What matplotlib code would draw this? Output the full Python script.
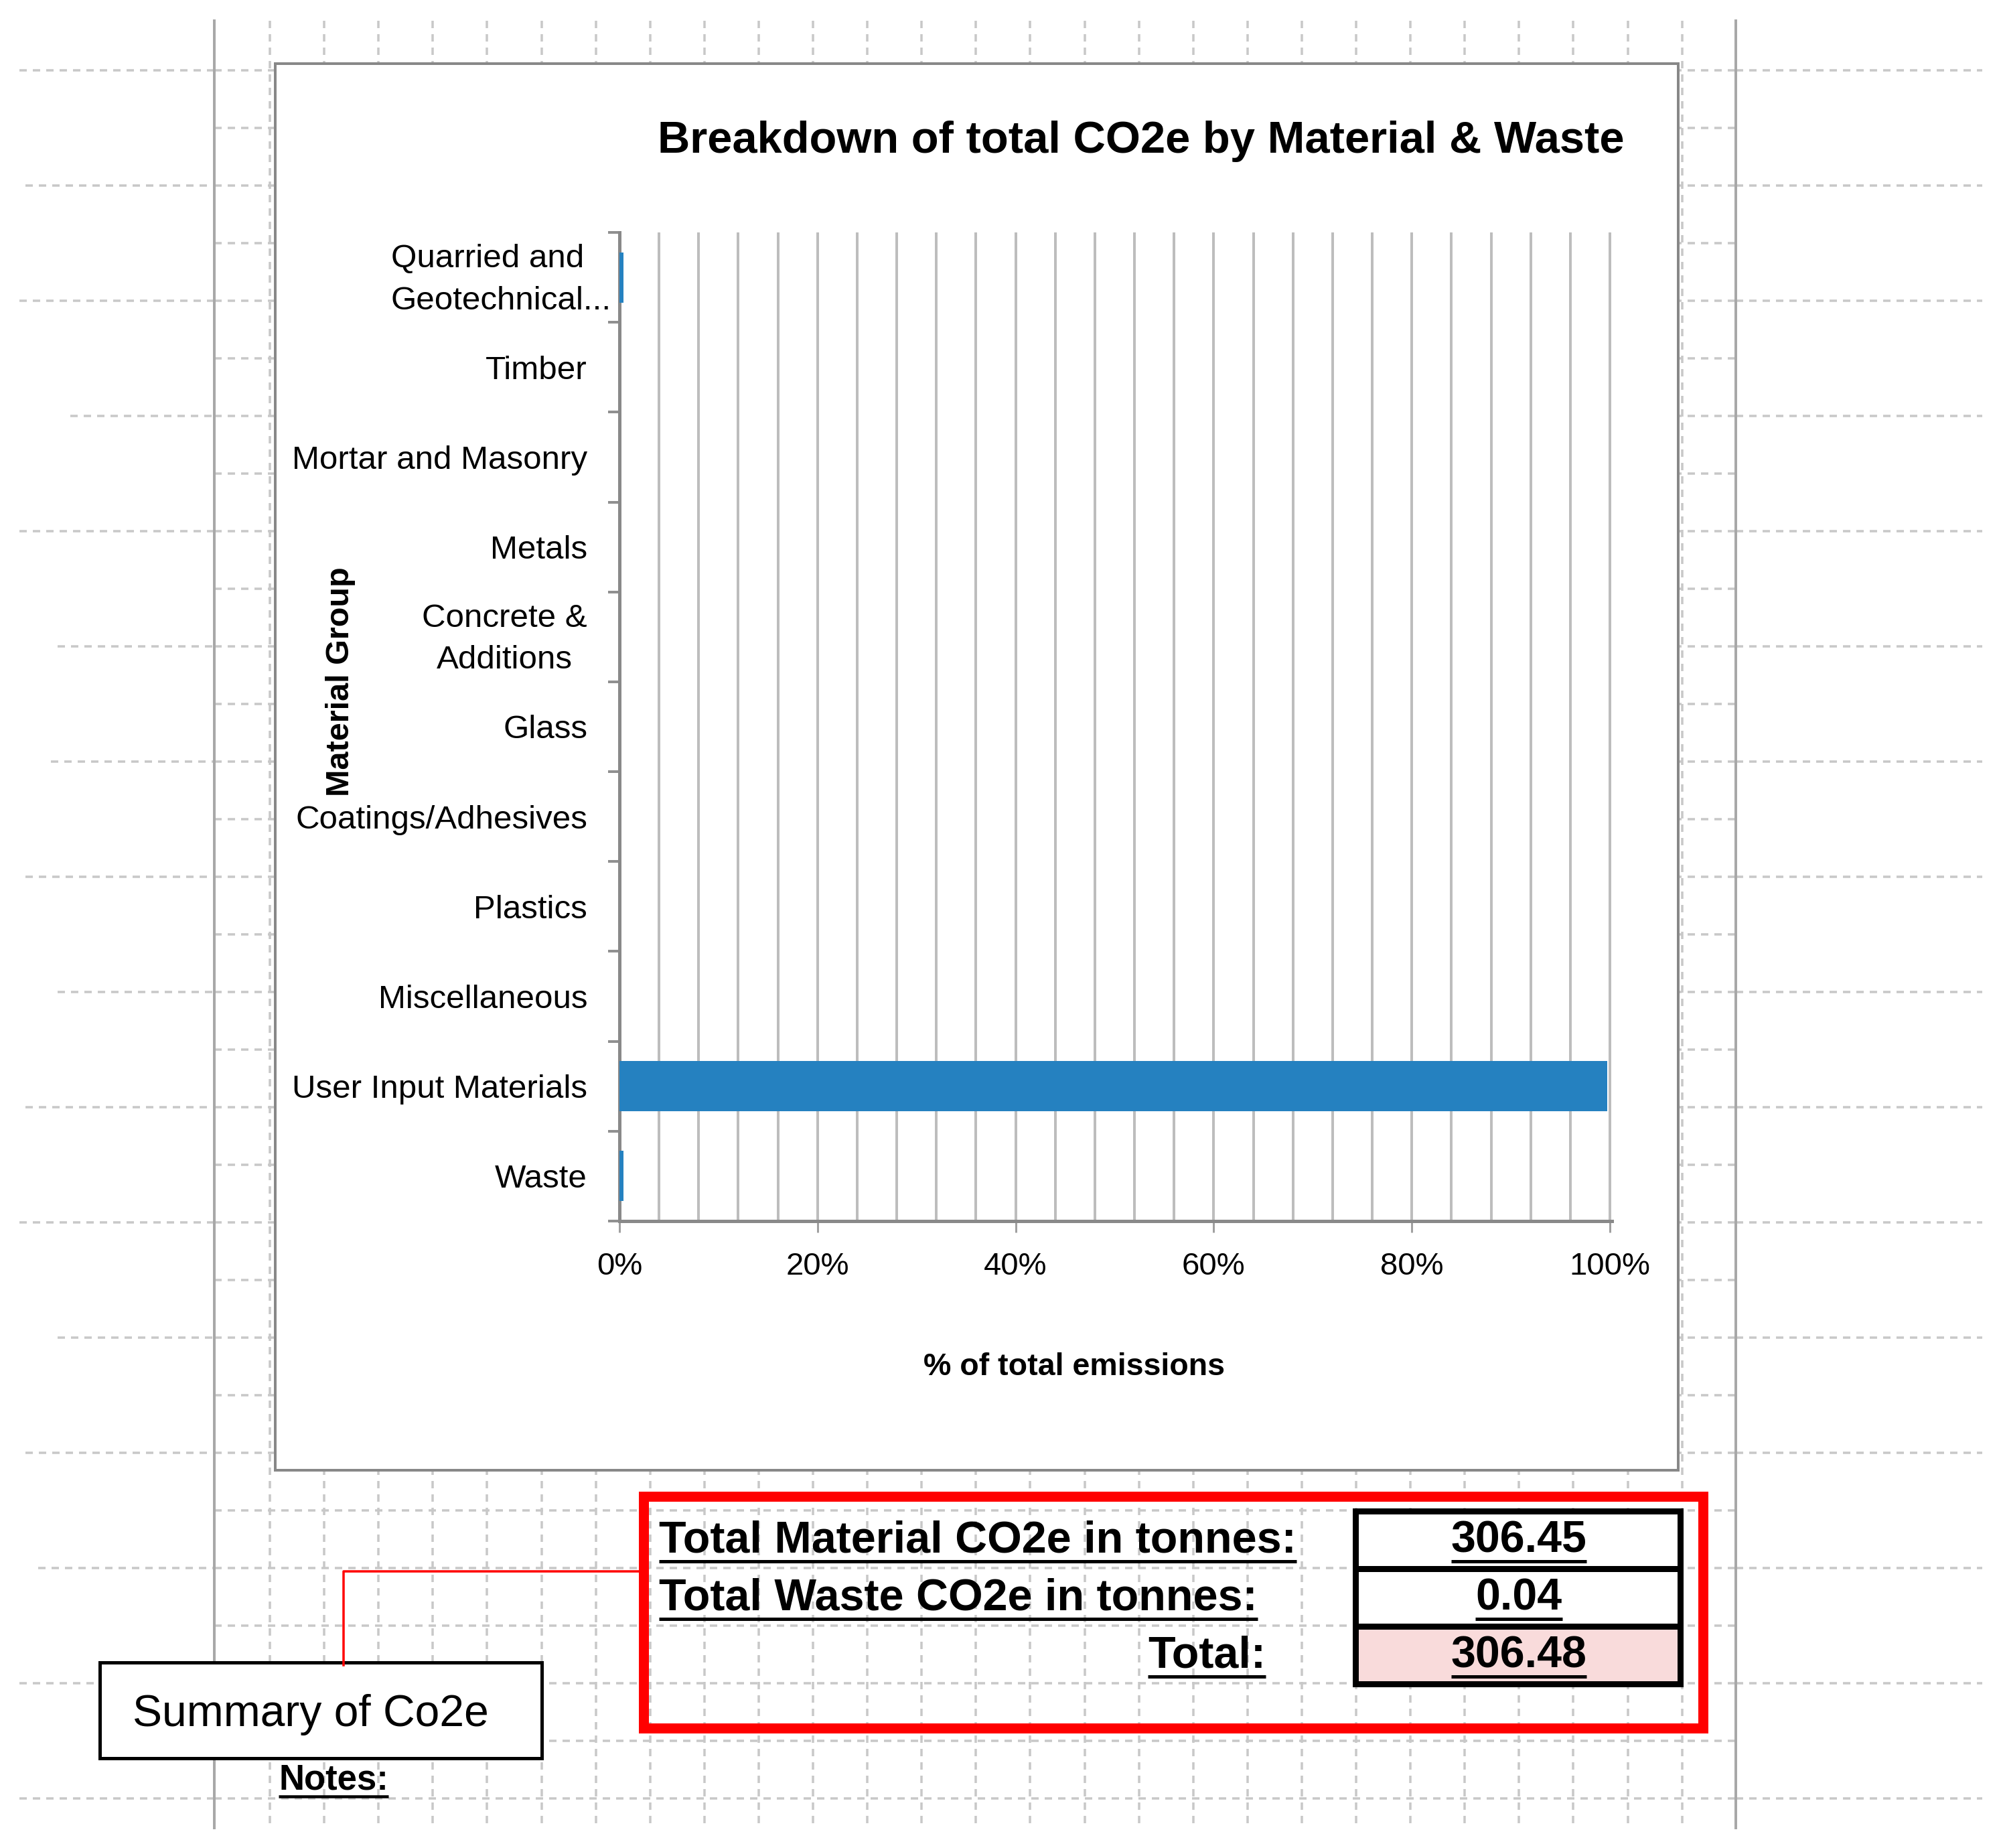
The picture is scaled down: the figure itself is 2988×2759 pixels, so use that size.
import matplotlib
matplotlib.use('Agg')
import numpy as np
import matplotlib.pyplot as plt
from matplotlib.patches import Rectangle
from matplotlib.transforms import ScaledTranslation
from matplotlib.ticker import FixedLocator, MultipleLocator, PercentFormatter

plt.rcParams['font.family'] = ['Liberation Sans', 'DejaVu Sans']
plt.rcParams['lines.scale_dashes'] = False

# chart data
groups = ['Quarried and\nGeotechnical...', 'Timber', 'Mortar and Masonry', 'Metals',
          'Concrete &\nAdditions', 'Glass', 'Coatings/Adhesives', 'Plastics',
          'Miscellaneous', 'User Input Materials', 'Waste']
share = [0.004, 0, 0, 0, 0, 0, 0, 0, 0, 0.997, 0.004]
x_ticks = [0, 0.2, 0.4, 0.6, 0.8, 1.0]
grid_step = 0.04

# summary table next to the chart
summary_labels = ['Total Material CO2e in tonnes:', 'Total Waste CO2e in tonnes:', 'Total:']
summary_values = ['306.45', '0.04', '306.48']

W, H = 2988, 2759
PX = 72 / 100          # points per pixel at dpi 100

fig = plt.figure(figsize=(W / 100, H / 100), dpi=100)
bg = fig.add_axes([0, 0, 1, 1])
bg.set_xlim(0, W)
bg.set_ylim(H, 0)
bg.axis('off')

# --- spreadsheet cell grid behind everything
dash = dict(color='#c8c8c8', lw=3.5 * PX, ls=(0, (11 * PX, 9 * PX)), zorder=1)
col_x = 403 + 81.1 * np.arange(27)
row_y = 105 + 86 * np.arange(31)
left_start = [29, 38, 29, 105, 29, 86, 76, 38, 86, 38, 29, 86, 38, 57, 29, 29]
for x in col_x:
    bg.plot([x, x], [31, 2729], **dash)
for k, y in enumerate(row_y):
    bg.plot([320, 2592], [y, y], **dash)
    if k % 2 == 0:
        bg.plot([left_start[k // 2], 320], [y, y], **dash)
        bg.plot([2592, 2960], [y, y], **dash)
for x in (320, 2592):
    bg.plot([x, x], [31, 2729], color='#a8a8a8', lw=4 * PX, zorder=2)

# --- chart frame
bg.add_patch(Rectangle((411, 95), 2506 - 411, 2195 - 95, fc='white',
                       ec='#888888', lw=4 * PX, zorder=3))

ax = fig.add_axes([925 / W, 1 - 1823 / H, (2407 - 925) / W, (1823 - 347) / H])
ax.patch.set_alpha(0)
ypos = np.arange(len(groups))
ax.barh(ypos, share, height=0.56, color='#2581c0', zorder=3)
ax.set_xlim(0, 1.002)
ax.set_ylim(len(groups) - 0.5, -0.5)

ax.xaxis.set_major_locator(FixedLocator(x_ticks))
ax.xaxis.set_minor_locator(MultipleLocator(grid_step))
ax.xaxis.set_major_formatter(PercentFormatter(1.0, decimals=0))
ax.grid(axis='x', which='both', color='#bdbdbd', lw=4 * PX)
ax.set_axisbelow(True)
ax.tick_params(axis='x', which='major', length=17 * PX, width=3 * PX,
               color='#a0a0a0', pad=21, labelsize=34)
ax.tick_params(axis='x', which='minor', length=0)

ax.set_yticks(ypos)
ylabels = ax.set_yticklabels(groups, multialignment='center', linespacing=1.5)
ylabels[0].set_multialignment('left')
ax.yaxis.set_minor_locator(FixedLocator(np.arange(-0.5, len(groups))))
ax.tick_params(axis='y', which='major', length=0, pad=48 * PX, labelsize=35.5)
ax.tick_params(axis='y', which='minor', length=17 * PX, width=4 * PX, color='#909090')

# two-line category labels sit a little higher, the first one overhangs to the right
for i, (dx, dy) in {0: (0.36, 0.10), 4: (0, 0.10)}.items():
    lab = ax.get_yticklabels()[i]
    lab.set_transform(lab.get_transform() + ScaledTranslation(dx, dy, fig.dpi_scale_trans))

for s in ('top', 'right'):
    ax.spines[s].set_visible(False)
for s in ('left', 'bottom'):
    ax.spines[s].set_color('#898989')
    ax.spines[s].set_linewidth(5 * PX)

renderer = fig.canvas.get_renderer()


def fit(t, width):
    w = t.get_window_extent(renderer).width
    t.set_fontsize(t.get_fontsize() * width / w)
    return t


def underline(t, offset, lw=5):
    bb = t.get_window_extent(renderer)
    ty = t.get_position()[1] + offset
    bg.plot([bb.x0, bb.x1], [ty, ty], color='black', lw=lw * PX, zorder=6,
            solid_capstyle='butt')


title = bg.text(1704, 228, 'Breakdown of total CO2e by Material & Waste', ha='center',
                va='baseline', fontsize=40, weight='bold', zorder=6)
fit(title, 1440)
bg.text(1604, 2053, '% of total emissions', ha='center', va='baseline',
        fontsize=33.5, weight='bold', zorder=6)
bg.text(521, 1018, 'Material Group', rotation=90, rotation_mode='anchor',
        ha='center', va='baseline', fontsize=35, weight='bold', zorder=6)

# --- summary block
bg.add_patch(Rectangle((961, 2234), 2543 - 961, 2580 - 2234, fill=False,
                       ec='#ff0000', lw=15 * PX, zorder=5))
bg.plot([513, 513, 958], [2486, 2346, 2346], color='#ff0000', lw=3.5 * PX, zorder=5)
bg.add_patch(Rectangle((149, 2482), 660, 143, fc='white', ec='black',
                       lw=5 * PX, zorder=4))
fit(bg.text(198, 2577, 'Summary of Co2e', ha='left', va='baseline',
            fontsize=50, zorder=6), 533)
notes = bg.text(416, 2672, 'Notes:', ha='left', va='baseline', fontsize=38,
                weight='bold', zorder=6)
underline(notes, 10, lw=4.5)

row_top = 2256
row_h = 86
fills = ['white', 'white', '#f9dbdb']
for i, (lab, val) in enumerate(zip(summary_labels, summary_values)):
    top = row_top + i * row_h
    base = top + row_h - 24
    bg.add_patch(Rectangle((2024, top), 485, row_h, fc=fills[i], ec='black',
                           lw=9 * PX, zorder=4))
    if i < 2:
        t = bg.text(984, base, lab, ha='left', va='baseline', fontsize=47.8,
                    weight='bold', zorder=6)
    else:
        t = bg.text(1890, base, lab, ha='right', va='baseline', fontsize=47.8,
                    weight='bold', zorder=6)
    underline(t, 13)
    v = bg.text(2268, base, val, ha='center', va='baseline', fontsize=47.8,
                weight='bold', zorder=6)
    underline(v, 13)

fig.savefig('out.png', dpi=100, facecolor='white')
